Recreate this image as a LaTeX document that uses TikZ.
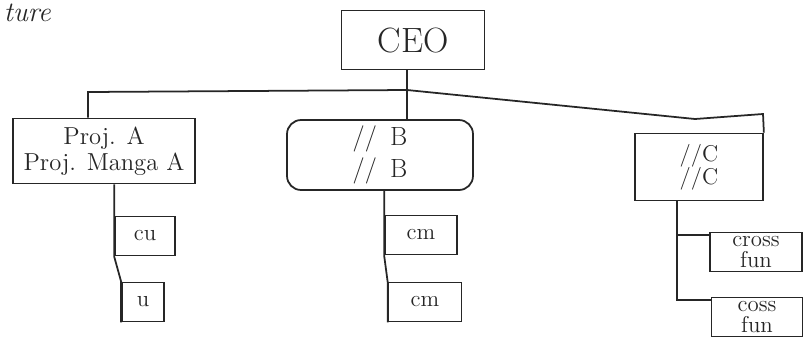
\documentclass[tikz,border=0pt]{standalone}
\begin{document}
\begin{tikzpicture}[x=0.02cm, y=-0.02cm, line width=1pt, black!85,
		unit/.style={draw, inner sep=0pt, align=center},
		kid/.style={draw, inner sep=0pt, align=center, minimum height=0.78cm, font=\fontsize{13}{11.5}\selectfont}]
		\useasboundingbox (0,0) rectangle (810,349);
		\node[anchor=base west, inner sep=0pt, font=\itshape\fontsize{16}{18}\selectfont] (title) at (3,21) {ture};
		
		\node[unit, minimum width=2.86cm, minimum height=1.18cm, font=\fontsize{20}{24}\selectfont] (ceo) at (413,40) {CEO};
		\node[unit, minimum width=3.64cm, minimum height=1.3cm, font=\fontsize{14}{15}\selectfont] (pa) at (104,151) {Proj. A\\Proj. Manga A};
		\node[unit, rounded corners=8pt, minimum width=3.72cm, minimum height=1.4cm, font=\fontsize{15}{18}\selectfont] (pb) at (380,155) {//\enspace B\\//\enspace B};
		\node[unit, minimum width=2.56cm, minimum height=1.34cm, font=\fontsize{13}{13}\selectfont] (pc) at (699,167) {//C\\//C};
		
		\foreach \n/\x/\y/\w/\t in {a1/145/236/1.2cm/cu, a2/143/302/0.84cm/u, b1/421/235/1.44cm/cm, b2/425/302/1.46cm/cm, c1/756/252/1.84cm/{cross\\fun}, c2/757/317/1.82cm/{coss\\fun}}{
			\node[kid, minimum width=\w] (\n) at (\x,\y) {\t};
		}
		
		\coordinate (busl) at (88,92);
		\coordinate (bus) at (407,90);
		\coordinate (busm) at (695,119);
		\coordinate (busr) at (763,114);
		\draw (pa.north -| busl) -- (busl) -- (bus) -- (busm) -- (busr) -- (pc.north east);
		\draw (ceo.south -| bus) -- (pb.north -| bus);
		
		\draw (pa.south -| a1.north west) -- (a1.south west) -- (a2.north west) -- (a2.south west);
		\draw (pb.south -| b1.north west) -- (b1.south west) -- (b2.north west) -- (b2.south west);
		\coordinate (ctrunk) at (677,200);
		\draw (pc.south -| ctrunk) |- (c1.160);
		\draw (pc.south -| ctrunk) |- (c2.160);
\end{tikzpicture}
\end{document}
